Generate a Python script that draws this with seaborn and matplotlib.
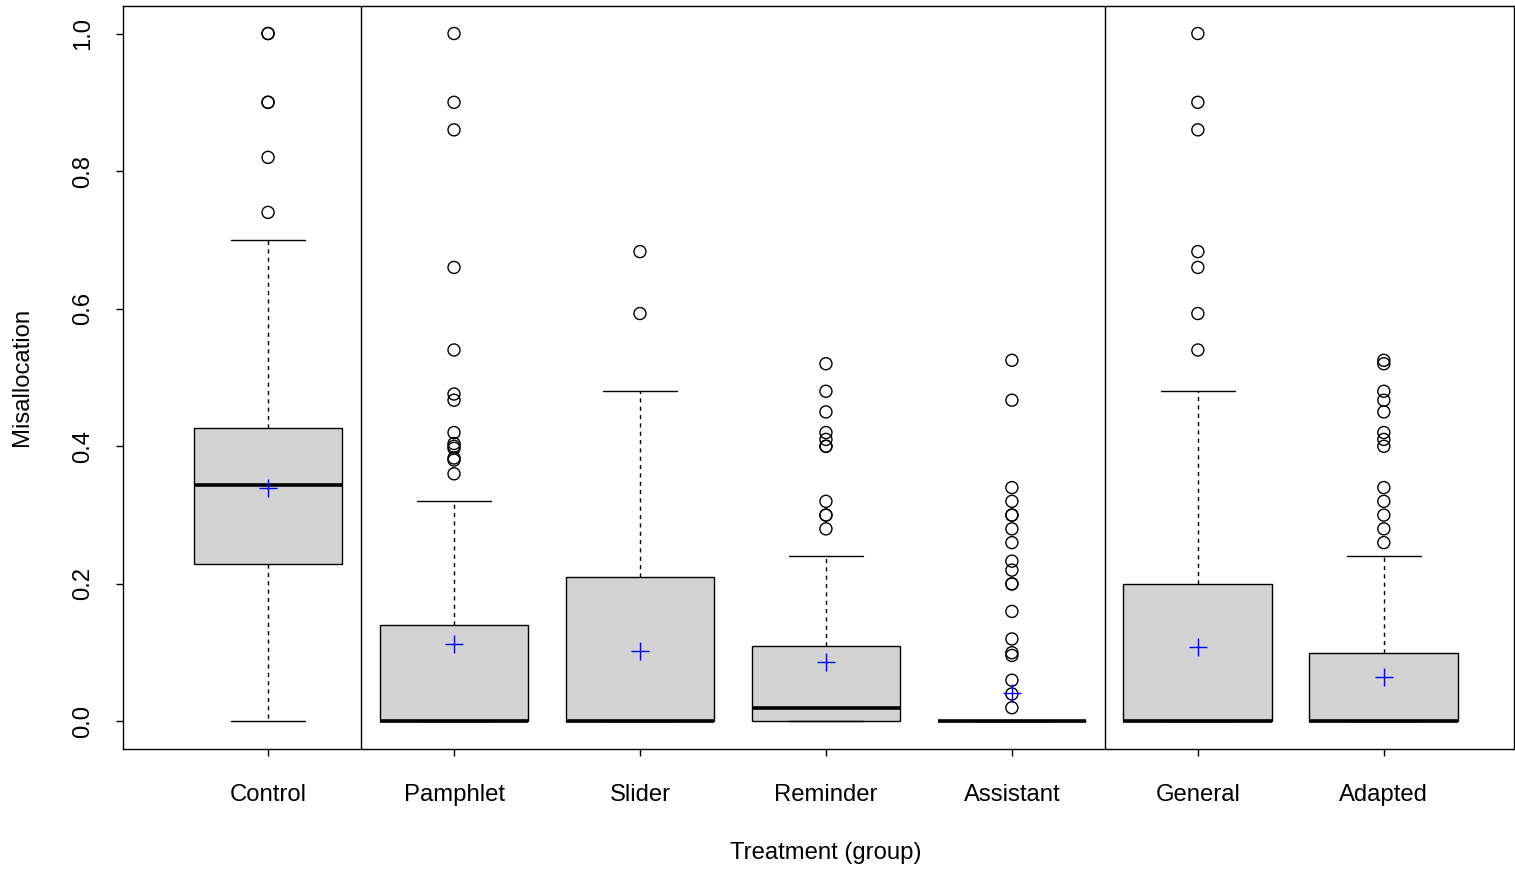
import matplotlib
matplotlib.use("Agg")
import matplotlib.pyplot as plt
import numpy as np
import pandas as pd
import seaborn as sns

# groups and the sections they belong to (separators drawn between sections)
groups = ["Control", "Pamphlet", "Slider", "Reminder", "Assistant", "General", "Adapted"]
section_sizes = [1, 4, 2]

# box summaries
q1 = [0.229, 0.0, 0.0, 0.0, 0.0, 0.0, 0.0]
medians = [0.344, 0.0, 0.0, 0.02, 0.0, 0.0, 0.0]
q3 = [0.426, 0.14, 0.21, 0.11, 0.0, 0.20, 0.10]
whisk_lo = [0.0, 0.0, 0.0, 0.0, 0.0, 0.0, 0.0]
whisk_hi = [0.70, 0.32, 0.48, 0.24, 0.0, 0.48, 0.24]
means = [0.340, 0.112, 0.103, 0.087, 0.041, 0.108, 0.065]

# outliers per group
control_out = [1.0, 1.0, 0.9, 0.9, 0.82, 0.74]
pamphlet_out = [1.0, 0.9, 0.86, 0.66, 0.54, 0.476, 0.467, 0.42, 0.404, 0.40,
                0.397, 0.383, 0.38, 0.36]
slider_out = [0.683, 0.593]
reminder_out = [0.52, 0.48, 0.45, 0.42, 0.41, 0.40, 0.40, 0.32, 0.30, 0.30, 0.28]
assistant_out = [0.525, 0.467, 0.34, 0.32, 0.30, 0.30, 0.28, 0.26, 0.233, 0.22,
                 0.20, 0.20, 0.16, 0.12, 0.10, 0.096, 0.06, 0.04, 0.02]
general_out = [1.0, 0.9, 0.86, 0.683, 0.66, 0.593, 0.54]
adapted_out = [0.525, 0.52, 0.48, 0.467, 0.45, 0.42, 0.41, 0.40, 0.34, 0.32,
               0.30, 0.28, 0.26]
outliers = [control_out, pamphlet_out, slider_out, reminder_out,
            assistant_out, general_out, adapted_out]

sns.set_theme(style="ticks")
plt.rcParams["font.family"] = ["Liberation Sans", "DejaVu Sans"]
plt.rcParams["axes.linewidth"] = 1.0

fig = plt.figure(figsize=(15.15, 8.69), dpi=100)
ax = fig.add_axes([123 / 1515, 1 - 749 / 869, (1514 - 123) / 1515, (749 - 6) / 869])

pos = np.arange(len(groups))
stats = []
for i, g in enumerate(groups):
    stats.append(dict(label=g, q1=q1[i], med=medians[i], q3=q3[i],
                      whislo=whisk_lo[i], whishi=whisk_hi[i], fliers=[]))

ax.bxp(stats, positions=pos, widths=0.8, capwidths=0.4, patch_artist=True,
       showfliers=False, manage_ticks=False,
       boxprops=dict(facecolor="#D3D3D3", edgecolor="black", linewidth=1.0),
       medianprops=dict(color="black", linewidth=2.6, solid_capstyle="butt"),
       whiskerprops=dict(color="black", linewidth=1.0, linestyle=(0, (3, 3))),
       capprops=dict(color="black", linewidth=1.0))

out_df = pd.DataFrame({
    "pos": np.concatenate([[i] * len(o) for i, o in enumerate(outliers)]),
    "value": np.concatenate(outliers),
})
sns.scatterplot(data=out_df, x="pos", y="value", ax=ax, marker="o", s=75,
                facecolor="none", edgecolor="black", linewidth=1.0, zorder=3)

mean_df = pd.DataFrame({"pos": pos, "mean": means})
sns.scatterplot(data=mean_df, x="pos", y="mean", ax=ax, marker="+", s=150,
                color="blue", linewidth=1.0, zorder=4)

# section separators
for b in np.cumsum(section_sizes)[:-1]:
    ax.axvline(b - 0.5, color="black", linewidth=1.0)

ax.set_xlim(-0.78, len(groups) - 1 + 0.70)
ax.set_ylim(-0.04, 1.04)
ax.set_xticks(pos)
ax.set_xticklabels(groups)
ax.set_yticks([0.0, 0.2, 0.4, 0.6, 0.8, 1.0])
ax.set_yticklabels(["0.0", "0.2", "0.4", "0.6", "0.8", "1.0"])
ax.tick_params(axis="both", direction="out", length=5, width=1.0,
               color="black", labelsize=17.2, labelcolor="black")
ax.tick_params(axis="x", pad=20.5)
ax.tick_params(axis="y", pad=16, labelrotation=90)
for lab in ax.get_yticklabels():
    lab.set_verticalalignment("center")

for s in ax.spines.values():
    s.set_visible(True)
    s.set_color("black")
    s.set_linewidth(1.0)

ax.set_xlabel("Treatment (group)", fontsize=17.2, color="black")
ax.set_ylabel("Misallocation", fontsize=17.2, color="black")
ax.xaxis.set_label_coords((826 - 123) / 1391, (749 - 853) / 743)
ax.yaxis.set_label_coords((22 - 123) / 1391, (749 - 377) / 743)
ax.xaxis.label.set_verticalalignment("center")
ax.yaxis.label.set_verticalalignment("center")
ax.yaxis.label.set_rotation_mode("anchor")

fig.savefig("out.png", dpi=100, facecolor="white")
